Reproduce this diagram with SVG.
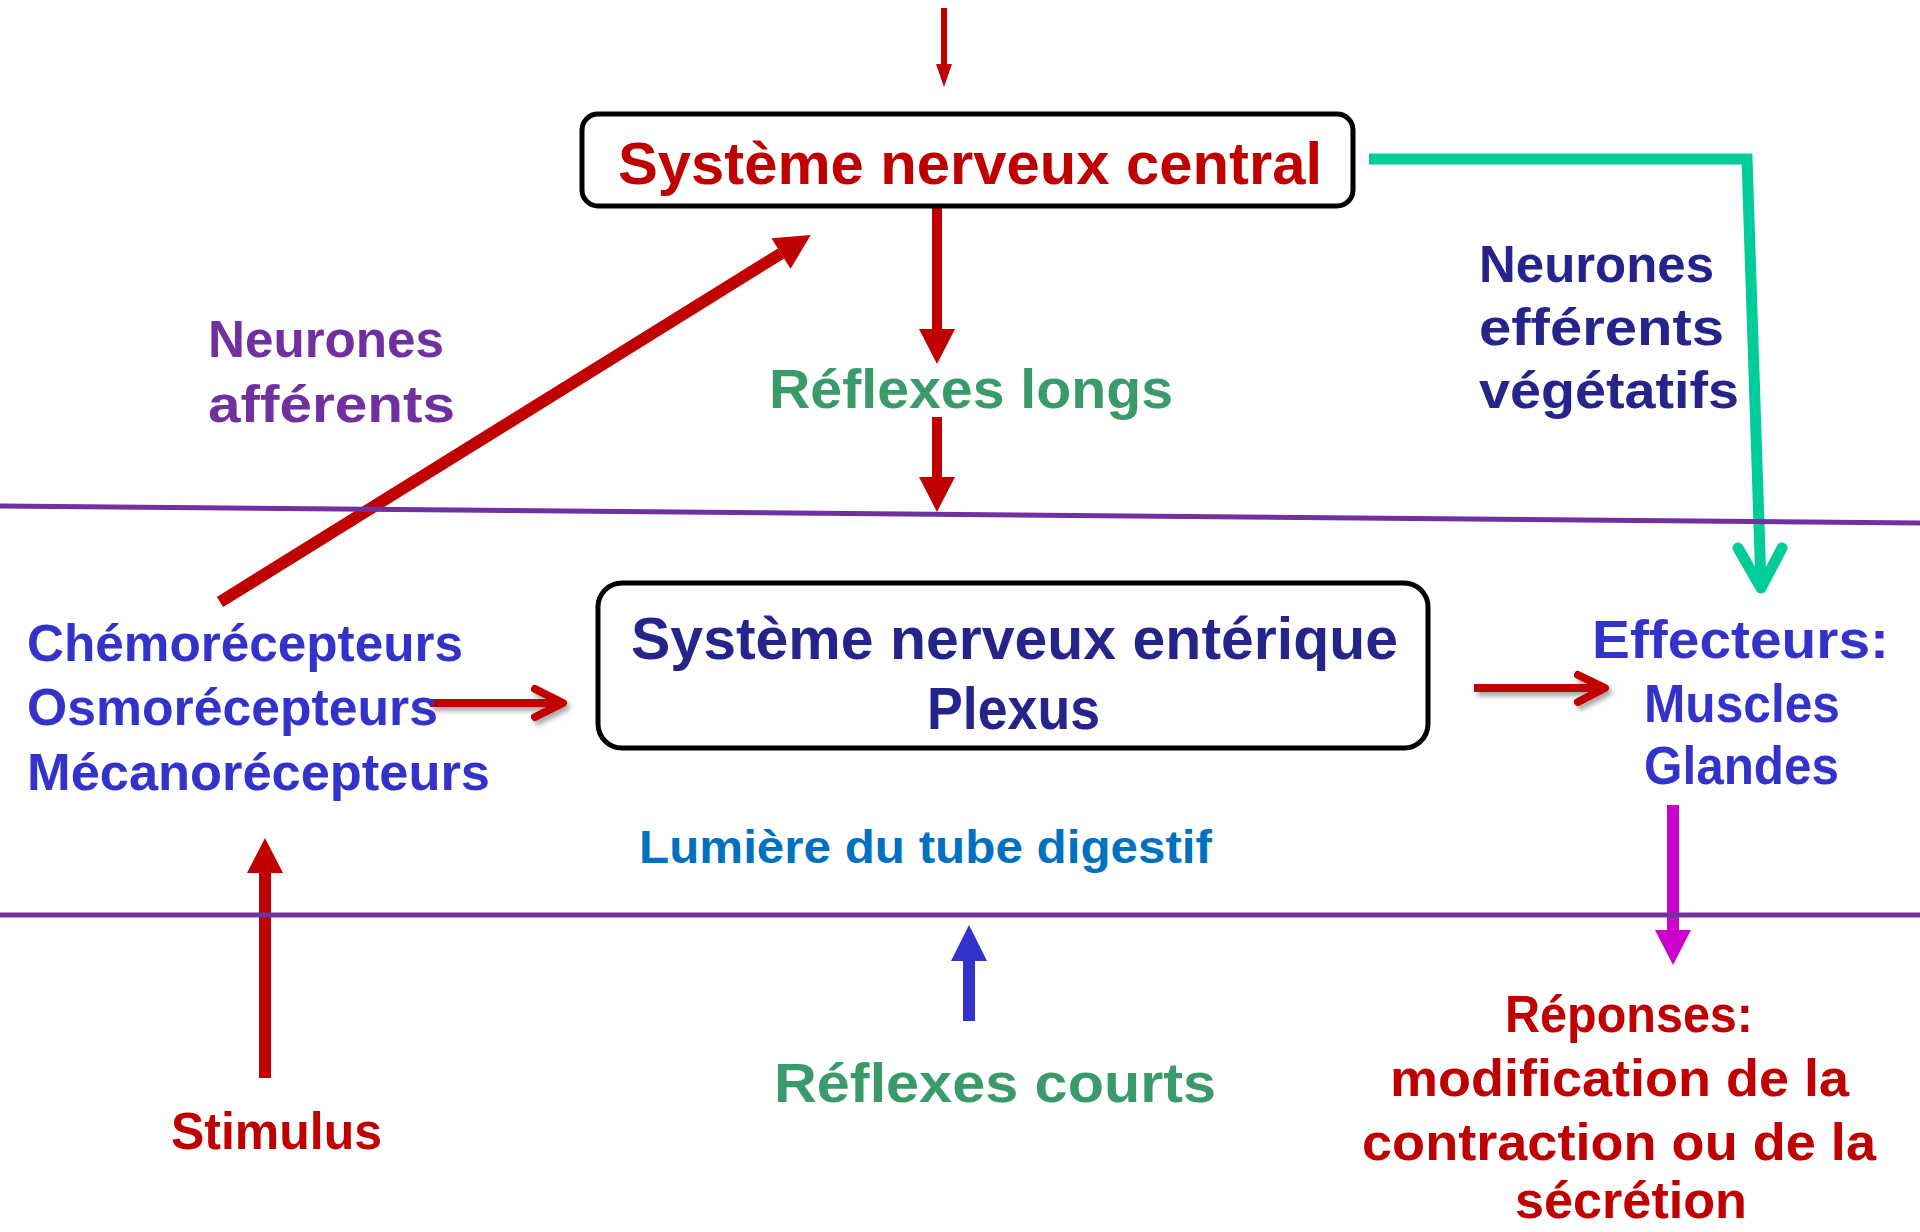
<svg xmlns="http://www.w3.org/2000/svg" width="1920" height="1232" viewBox="0 0 1920 1232">
  <style>
    text { font-family: "Liberation Sans", Arial, sans-serif; font-weight: 700; }
    .box { fill: #ffffff; stroke: #000000; stroke-width: 5; }
    .red { fill: #C00000; }
    .green { fill: #3A9A6A; }
    .purple { fill: #7030A0; }
    .navy { fill: #24248A; }
    .blue { fill: #3333CC; }
    .lum { fill: #0070C0; }
    .sep { stroke: #7030A0; stroke-width: 5; fill: none; }
    .shaft-red { stroke: #C00000; fill: none; }
  </style>
  <defs>
    <marker id="headRed" markerUnits="userSpaceOnUse" markerWidth="36" markerHeight="36" refX="0" refY="18" orient="auto" overflow="visible">
      <path d="M0,0 L35,18 L0,36 z" fill="#C00000"/>
    </marker>
    <marker id="headRedSmall" markerUnits="userSpaceOnUse" markerWidth="24" markerHeight="16" refX="0" refY="8" orient="auto" overflow="visible">
      <path d="M0,0 L23,8 L0,16 z" fill="#C00000"/>
    </marker>
    <marker id="headBlue" markerUnits="userSpaceOnUse" markerWidth="36" markerHeight="36" refX="0" refY="18" orient="auto" overflow="visible">
      <path d="M0,0 L36,18 L0,36 z" fill="#3333CC"/>
    </marker>
    <marker id="headMagenta" markerUnits="userSpaceOnUse" markerWidth="36" markerHeight="36" refX="0" refY="18" orient="auto" overflow="visible">
      <path d="M0,0 L35,18 L0,36 z" fill="#CC00CC"/>
    </marker>
    <filter id="shadow" x="-20%" y="-50%" width="140%" height="200%">
      <feDropShadow dx="3" dy="4" stdDeviation="2.5" flood-color="#000000" flood-opacity="0.35"/>
    </filter>
  </defs>

  <g id="connectors">
    <line x1="944" y1="8" x2="944" y2="64" class="shaft-red" stroke-width="6" marker-end="url(#headRedSmall)"/>
    <line x1="937" y1="206" x2="937" y2="329" class="shaft-red" stroke-width="10" marker-end="url(#headRed)"/>
    <line x1="937" y1="417" x2="937" y2="477" class="shaft-red" stroke-width="10" marker-end="url(#headRed)"/>
    <line x1="220" y1="602" x2="781" y2="253.5" class="shaft-red" stroke-width="12" marker-end="url(#headRed)"/>
    <line x1="265" y1="1078" x2="265" y2="873" class="shaft-red" stroke-width="12" marker-end="url(#headRed)"/>
    <line x1="969" y1="1021" x2="969" y2="961" stroke="#3333CC" stroke-width="12" marker-end="url(#headBlue)"/>
    <line x1="1673" y1="805" x2="1673" y2="930" stroke="#CC00CC" stroke-width="12" marker-end="url(#headMagenta)"/>
    <g stroke="#00CC99" stroke-width="11" fill="none">
      <polyline points="1369,159 1747,159 1761,586" stroke-linejoin="miter"/>
      <polyline points="1738,548 1761,588 1782,548" stroke-linecap="round" stroke-linejoin="round"/>
    </g>
    <g filter="url(#shadow)" stroke="#C00000" stroke-width="8" fill="none">
      <line x1="430" y1="703" x2="562" y2="703"/>
      <polyline points="535,689 563,703 535,717" stroke-linecap="round" stroke-linejoin="round"/>
    </g>
    <g filter="url(#shadow)" stroke="#C00000" stroke-width="8" fill="none">
      <line x1="1474" y1="688" x2="1603" y2="688"/>
      <polyline points="1578,675 1605,688 1578,702" stroke-linecap="round" stroke-linejoin="round"/>
    </g>
  </g>

  <g id="separators">
    <line x1="0" y1="506" x2="1920" y2="523" class="sep"/>
    <line x1="0" y1="915" x2="1920" y2="915" class="sep"/>
  </g>

  <g id="snc">
    <rect x="582" y="114" width="771" height="92" rx="16" class="box"/>
    <text x="618" y="184" font-size="60" class="red" textLength="704" lengthAdjust="spacingAndGlyphs">Système nerveux central</text>
  </g>

  <g id="reflexes-longs">
    <text x="769" y="408" font-size="56" class="green" textLength="404" lengthAdjust="spacingAndGlyphs">Réflexes longs</text>
  </g>

  <g id="neurones-afferents">
    <text x="208" y="357" font-size="52" class="purple" textLength="236" lengthAdjust="spacingAndGlyphs">Neurones</text>
    <text x="208" y="422" font-size="52" class="purple" textLength="247" lengthAdjust="spacingAndGlyphs">afférents</text>
  </g>

  <g id="neurones-efferents">
    <text x="1479" y="282" font-size="52" class="navy" textLength="235" lengthAdjust="spacingAndGlyphs">Neurones</text>
    <text x="1479" y="345" font-size="52" class="navy" textLength="245" lengthAdjust="spacingAndGlyphs">efférents</text>
    <text x="1479" y="408" font-size="52" class="navy" textLength="260" lengthAdjust="spacingAndGlyphs">végétatifs</text>
  </g>

  <g id="recepteurs">
    <text x="27" y="661" font-size="52" class="blue" textLength="436" lengthAdjust="spacingAndGlyphs">Chémorécepteurs</text>
    <text x="27" y="725" font-size="52" class="blue" textLength="411" lengthAdjust="spacingAndGlyphs">Osmorécepteurs</text>
    <text x="27" y="790" font-size="52" class="blue" textLength="463" lengthAdjust="spacingAndGlyphs">Mécanorécepteurs</text>
  </g>

  <g id="sne">
    <rect x="598" y="583" width="830" height="165" rx="24" class="box"/>
    <text x="631" y="659" font-size="60" class="navy" textLength="767" lengthAdjust="spacingAndGlyphs">Système nerveux entérique</text>
    <text x="927" y="729" font-size="60" class="navy" textLength="173" lengthAdjust="spacingAndGlyphs">Plexus</text>
  </g>

  <g id="lumiere">
    <text x="639" y="863" font-size="46" class="lum" textLength="573" lengthAdjust="spacingAndGlyphs">Lumière du tube digestif</text>
  </g>

  <g id="effecteurs">
    <text x="1592" y="658" font-size="54" class="blue" textLength="297" lengthAdjust="spacingAndGlyphs">Effecteurs:</text>
    <text x="1644" y="722" font-size="54" class="blue" textLength="196" lengthAdjust="spacingAndGlyphs">Muscles</text>
    <text x="1644" y="784" font-size="54" class="blue" textLength="195" lengthAdjust="spacingAndGlyphs">Glandes</text>
  </g>

  <g id="reflexes-courts">
    <text x="774" y="1102" font-size="56" class="green" textLength="442" lengthAdjust="spacingAndGlyphs">Réflexes courts</text>
  </g>

  <g id="stimulus">
    <text x="171" y="1149" font-size="52" class="red" textLength="211" lengthAdjust="spacingAndGlyphs">Stimulus</text>
  </g>

  <g id="reponses">
    <text x="1505" y="1032" font-size="52" class="red" textLength="248" lengthAdjust="spacingAndGlyphs">Réponses:</text>
    <text x="1390" y="1096" font-size="52" class="red" textLength="459" lengthAdjust="spacingAndGlyphs">modification de la</text>
    <text x="1362" y="1160" font-size="52" class="red" textLength="514" lengthAdjust="spacingAndGlyphs">contraction ou de la</text>
    <text x="1515" y="1218" font-size="52" class="red" textLength="232" lengthAdjust="spacingAndGlyphs">sécrétion</text>
  </g>
</svg>
